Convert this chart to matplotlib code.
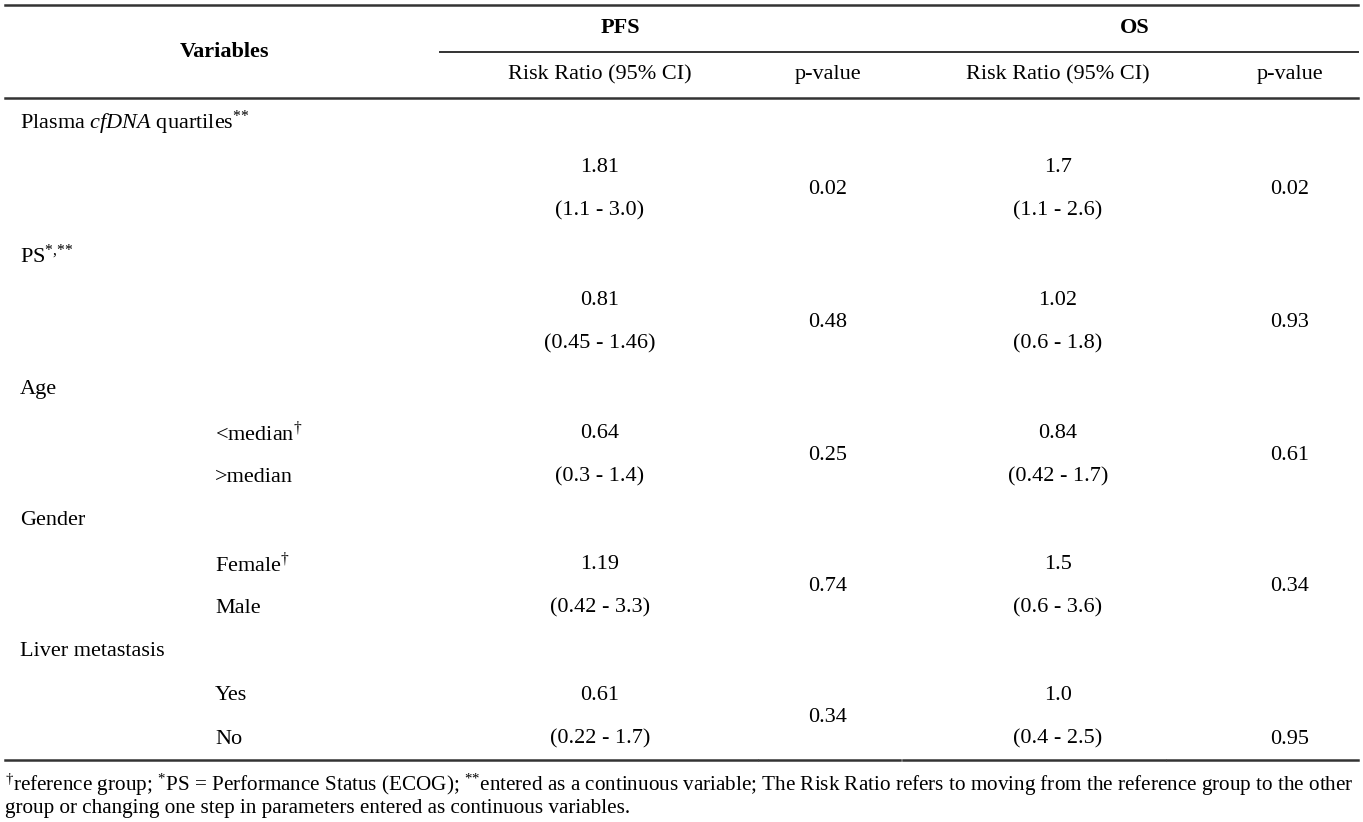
import matplotlib.pyplot as plt

plt.rcParams['font.family'] = ['Liberation Serif', 'DejaVu Serif']
plt.rcParams['mathtext.fontset'] = 'custom'
plt.rcParams['mathtext.rm'] = 'Liberation Serif'
plt.rcParams['mathtext.it'] = 'Liberation Serif:italic'
plt.rcParams['mathtext.bf'] = 'Liberation Serif:bold'

## table contents
groups = ['PFS', 'OS']
sub_headers = ['Risk Ratio (95% CI)', 'p-value', 'Risk Ratio (95% CI)', 'p-value']
variables = ['Plasma $\\mathit{cfDNA}$ quartiles$^{\\text{**}}$', 'PS$^{\\text{*,**}}$', 'Age', 'Gender', 'Liver metastasis']
levels = [['', ''], ['', ''], ['<median$^{\u2020}$', '>median'],
          ['Female$^{\u2020}$', 'Male'], ['Yes', 'No']]
pfs_rr = ['1.81', '0.81', '0.64', '1.19', '0.61']
pfs_ci = ['(1.1 - 3.0)', '(0.45 - 1.46)', '(0.3 - 1.4)', '(0.42 - 3.3)', '(0.22 - 1.7)']
pfs_p = ['0.02', '0.48', '0.25', '0.74', '0.34']
os_rr = ['1.7', '1.02', '0.84', '1.5', '1.0']
os_ci = ['(1.1 - 2.6)', '(0.6 - 1.8)', '(0.42 - 1.7)', '(0.6 - 3.6)', '(0.4 - 2.5)']
os_p = ['0.02', '0.93', '0.61', '0.34', '0.95']
footnote = ['$^{\u2020}$reference group; $^{\\text{*}}$PS = Performance Status (ECOG); $^{\\text{**}}$entered as a continuous variable; '
            'The Risk Ratio refers to moving from the reference group to the other',
            'group or changing one step in parameters entered as continuous variables.']

W, H = 1363, 822
fig = plt.figure(figsize=(W / 100, H / 100), dpi=100)
ax = fig.add_axes([0, 0, 1, 1])
ax.set_xlim(0, W)
ax.set_ylim(H, 0)
ax.axis('off')

fs = 16
fs_note = 15.2
lc = '#333333'
col_x = [600, 828, 1058, 1290]

# rules
ax.plot([5, 1358], [5, 5], color=lc, lw=1.8)
ax.plot([440, 1358], [52, 52], color=lc, lw=1.4)
ax.plot([5, 1358], [98, 98], color=lc, lw=1.8)
for x0, x1 in [(5, 757), (759, 900), (903, 1165), (1167, 1358)]:
    ax.plot([x0, x1], [760, 760], color=lc, lw=1.8)

# header
ax.text(225, 52, 'Variables', ha='center', va='center', fontsize=fs, fontweight='bold')
ax.text(620, 28, groups[0], ha='center', va='center', fontsize=fs, fontweight='bold')
ax.text(1135, 28, groups[1], ha='center', va='center', fontsize=fs, fontweight='bold')
for x, s in zip(col_x, sub_headers):
    ax.text(x, 75, s, ha='center', va='center', fontsize=fs)

# body
row_y = [123, 256, 389, 520, 651]
for i, y in enumerate(row_y):
    ax.text(20, y, variables[i], ha='left', va='center', fontsize=fs)
    y1, y2 = y + 44, y + 88
    for lv, yy in zip(levels[i], [y1, y2]):
        if lv:
            ax.text(215, yy, lv, ha='left', va='center', fontsize=fs)
    ax.text(col_x[0], y1, pfs_rr[i], ha='center', va='center', fontsize=fs)
    ax.text(col_x[0], y2, pfs_ci[i], ha='center', va='center', fontsize=fs)
    ax.text(col_x[1], (y1 + y2) / 2, pfs_p[i], ha='center', va='center', fontsize=fs)
    ax.text(col_x[2], y1, os_rr[i], ha='center', va='center', fontsize=fs)
    ax.text(col_x[2], y2, os_ci[i], ha='center', va='center', fontsize=fs)
    # last OS p-value sits on the lower line in the original
    yp = y2 if i == len(row_y) - 1 else (y1 + y2) / 2
    ax.text(col_x[3], yp, os_p[i], ha='center', va='center', fontsize=fs)

# footnote
ax.text(5, 785, footnote[0], ha='left', va='center', fontsize=fs_note)
ax.text(5, 808, footnote[1], ha='left', va='center', fontsize=fs_note)

fig.savefig('out.png', dpi=100, facecolor='white')
